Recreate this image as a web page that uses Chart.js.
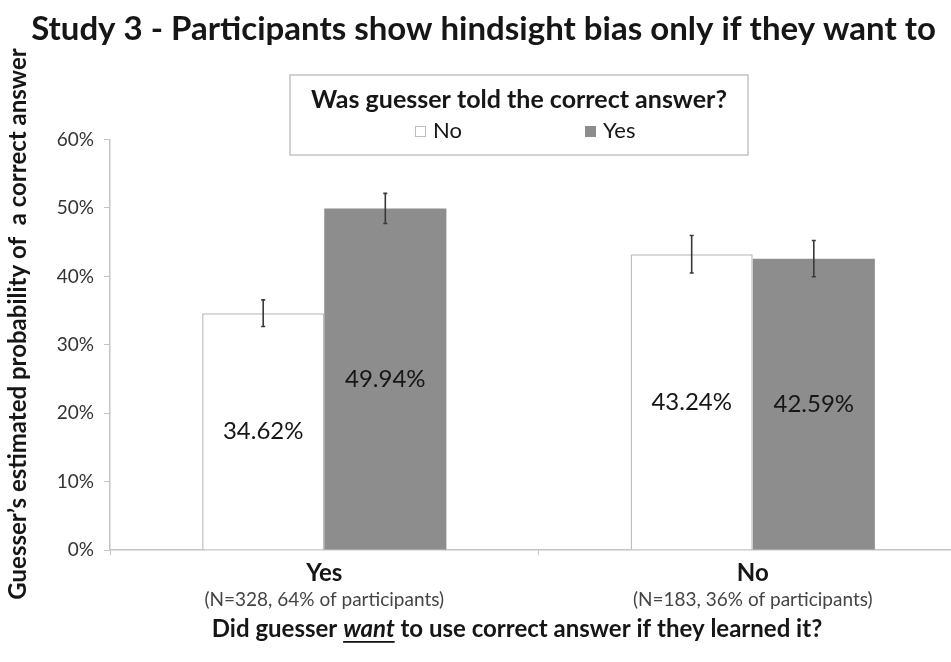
<!DOCTYPE html>
<html>
<head>
<meta charset="utf-8">
<title>Study 3 - hindsight bias</title>
<script src="https://cdn.jsdelivr.net/npm/chart.js@4.4.1/dist/chart.umd.min.js"></script>
<style>
  html, body { margin: 0; padding: 0; background: #fff; overflow: hidden; }
  /* the original picture is cut on the right, so the chart runs a bit past the window */
  #wrap { position: relative; width: 967px; height: 662px; }
</style>
</head>
<body>
<div id="wrap"><canvas id="grafico"></canvas></div>
<script>
// dados
const categories = ['Yes', 'No'];
const categoryNotes = ['(N=328, 64% of participants)', '(N=183, 36% of participants)'];
const seriesNames = ['No', 'Yes'];
const toldNo = [34.62, 43.24];
const toldYes = [49.94, 42.59];
const toldNoErr = [1.95, 2.75];
const toldYesErr = [2.2, 2.65];

const FONT = 'Lato, "Open Sans", sans-serif';
const INK = '#161616';

// barras de erro
const errorBars = {
  id: 'errorBars',
  afterDatasetsDraw(chart) {
    const ctx = chart.ctx;
    const y = chart.scales.y;
    ctx.save();
    ctx.strokeStyle = '#3a3a3a';
    ctx.lineWidth = 1.6;
    chart.data.datasets.forEach((ds, i) => {
      const meta = chart.getDatasetMeta(i);
      meta.data.forEach((bar, j) => {
        const v = ds.data[j], e = ds.errors[j];
        const top = y.getPixelForValue(v + e);
        const bot = y.getPixelForValue(v - e);
        ctx.beginPath();
        ctx.moveTo(bar.x, top); ctx.lineTo(bar.x, bot);
        ctx.moveTo(bar.x - 2, top); ctx.lineTo(bar.x + 2, top);
        ctx.moveTo(bar.x - 2, bot); ctx.lineTo(bar.x + 2, bot);
        ctx.stroke();
      });
    });
    ctx.restore();
  }
};

// rotulos de valor no meio da barra
const valueLabels = {
  id: 'valueLabels',
  afterDatasetsDraw(chart) {
    const ctx = chart.ctx;
    ctx.save();
    ctx.font = '24px ' + FONT;
    ctx.fillStyle = INK;
    ctx.textAlign = 'center';
    ctx.textBaseline = 'middle';
    chart.data.datasets.forEach((ds, i) => {
      chart.getDatasetMeta(i).data.forEach((bar, j) => {
        ctx.fillText(ds.data[j].toFixed(2) + '%', bar.x, (bar.y + bar.base) / 2);
      });
    });
    ctx.restore();
  }
};

// legenda com caixa e titulo
const boxLegend = {
  id: 'boxLegend',
  afterDraw(chart) {
    const ctx = chart.ctx;
    ctx.save();
    ctx.fillStyle = '#fff';
    ctx.fillRect(290, 75, 458, 80);
    ctx.strokeStyle = '#c4c4c4';
    ctx.lineWidth = 1.5;
    ctx.strokeRect(290, 75, 458, 80);
    ctx.fillStyle = INK;
    ctx.font = 'bold 25px ' + FONT;
    ctx.textAlign = 'center';
    ctx.textBaseline = 'middle';
    ctx.fillText('Was guesser told the correct answer?', 519, 100);
    const xs = [415, 585];
    ctx.font = '22px ' + FONT;
    ctx.textAlign = 'left';
    chart.data.datasets.forEach((ds, i) => {
      ctx.fillStyle = ds.backgroundColor;
      ctx.fillRect(xs[i], 126, 11, 11);
      ctx.strokeStyle = ds.borderColor;
      ctx.lineWidth = 1;
      ctx.strokeRect(xs[i] + 0.5, 126.5, 10, 10);
      ctx.fillStyle = INK;
      ctx.fillText(ds.label, xs[i] + 18, 131);
    });
    ctx.restore();
  }
};

// titulos dos eixos (o do x tem "want" em italico sublinhado)
const axisTitles = {
  id: 'axisTitles',
  afterDraw(chart) {
    const ctx = chart.ctx;
    ctx.save();
    ctx.fillStyle = INK;
    ctx.textBaseline = 'middle';

    ctx.save();
    ctx.translate(18, 324);
    ctx.rotate(-Math.PI / 2);
    ctx.font = 'bold 24px ' + FONT;
    ctx.textAlign = 'center';
    ctx.fillText('Guesser’s estimated probability of  a correct answer', 0, 0);
    ctx.restore();

    const parts = [
      ['Did guesser ', 'bold 24px '],
      ['want', 'italic bold 24px '],
      [' to use correct answer if they learned it?', 'bold 24px ']
    ];
    ctx.textAlign = 'left';
    let total = 0;
    parts.forEach(p => { ctx.font = p[1] + FONT; total += ctx.measureText(p[0]).width; });
    let x = 517 - total / 2;
    const yy = 629;
    parts.forEach((p, k) => {
      ctx.font = p[1] + FONT;
      const w = ctx.measureText(p[0]).width;
      ctx.fillText(p[0], x, yy);
      if (k === 1) ctx.fillRect(x, yy + 12, w, 1.8);
      x += w;
    });
    ctx.restore();
  }
};

new Chart(document.getElementById('grafico'), {
  type: 'bar',
  data: {
    labels: categories,
    datasets: [
      {
        label: seriesNames[0],
        data: toldNo,
        errors: toldNoErr,
        backgroundColor: '#ffffff',
        borderColor: '#bdbdbd',
        borderWidth: 1.5,
        categoryPercentage: 0.57,
        barPercentage: 1.0
      },
      {
        label: seriesNames[1],
        data: toldYes,
        errors: toldYesErr,
        backgroundColor: '#8d8d8d',
        borderColor: '#8d8d8d',
        borderWidth: 0,
        categoryPercentage: 0.57,
        barPercentage: 1.0
      }
    ]
  },
  options: {
    responsive: true,
    maintainAspectRatio: false,
    animation: false,
    layout: { padding: { top: 0, right: 0, bottom: 50, left: 0 } },
    scales: {
      y: {
        min: 0,
        max: 60,
        ticks: {
          stepSize: 10,
          color: '#333',
          font: { family: FONT, size: 19 },
          padding: 10,
          callback: v => v + '%'
        },
        grid: { drawOnChartArea: false, drawTicks: true, tickLength: 6, color: '#c4c4c4' },
        border: { color: '#c4c4c4', width: 1.5 },
        afterFit(scale) { scale.width = 110; }
      },
      x: {
        ticks: {
          color: INK,
          font: { family: FONT, size: 24, weight: 'bold' },
          padding: 4
        },
        grid: { drawOnChartArea: false, drawTicks: true, tickLength: 5, color: '#c4c4c4', offset: true },
        border: { color: '#c4c4c4', width: 1.5 },
        afterFit(scale) { scale.height = 38; }
      },
      x2: {
        type: 'category',
        position: 'bottom',
        labels: categoryNotes,
        offset: true,
        ticks: {
          color: '#444',
          font: { family: FONT, size: 19 },
          padding: 0
        },
        grid: { display: false, drawTicks: false },
        border: { display: false },
        afterFit(scale) { scale.height = 24; }
      }
    },
    plugins: {
      legend: { display: false },
      tooltip: { enabled: false },
      title: {
        display: true,
        text: 'Study 3 - Participants show hindsight bias only if they want to',
        color: INK,
        font: { family: FONT, size: 33, weight: 'bold' },
        padding: { top: 10, bottom: 90 }
      }
    }
  },
  plugins: [errorBars, valueLabels, boxLegend, axisTitles]
});
</script>
</body>
</html>
